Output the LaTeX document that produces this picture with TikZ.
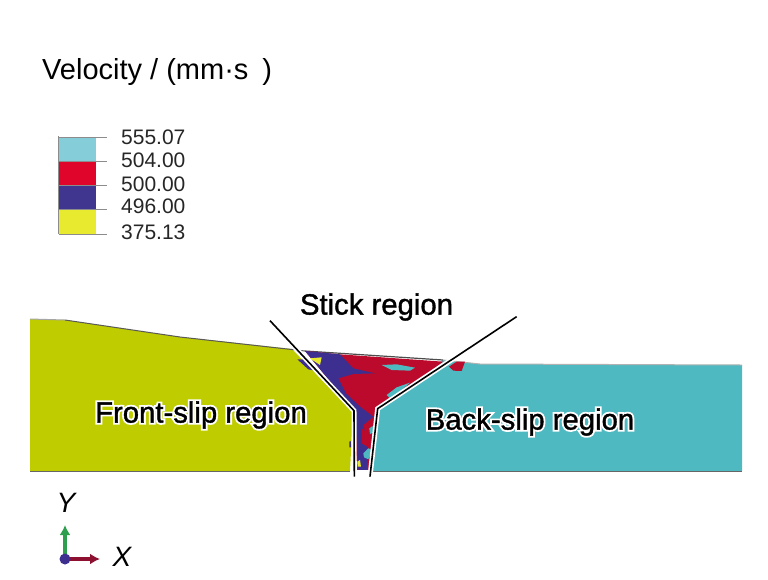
\documentclass[tikz,border=0pt]{standalone}
\usepackage{fontspec}
\usetikzlibrary{arrows.meta}
\setmainfont{Liberation Sans}
\newfontfamily\halofont[FakeBold=14]{Liberation Sans}
\newfontfamily\regionfont[FakeBold=1.2]{Liberation Sans}
\definecolor{lc}{HTML}{85CDD8}\definecolor{lr}{HTML}{E0052B}\definecolor{lb}{HTML}{41368F}\definecolor{ly}{HTML}{E8EA30}
\definecolor{fs}{HTML}{BFCC00}\definecolor{bs}{HTML}{4FB9C1}\definecolor{rr}{HTML}{BC0A2C}\definecolor{rb}{HTML}{3D2F8F}
\definecolor{ag}{HTML}{2E9E4F}\definecolor{ar}{HTML}{8E1030}
\newcommand{\halo}[1]{\rlap{\halofont\color{white}#1}{\regionfont #1}}
\tikzset{
 tick/.style={draw=black!45,line width=1pt},
 legendlabel/.style={font=\fontsize{21}{21}\selectfont,anchor=west,inner sep=0pt,black!85},
 regionlabel/.style={font=\fontsize{29.3}{29.3}\selectfont,inner sep=0pt},
 halo line/.style={white,line width=5pt},
 black line/.style={black,line width=1.6pt},
 axislabel/.style={font=\fontsize{28}{28}\selectfont\itshape,inner sep=0pt}
}
\begin{document}
\begin{tikzpicture}[x=1pt,y=-1pt]
\useasboundingbox (0,0) rectangle (768,579);
\fill[white] (0,0) rectangle (768,579);
% title
\node[font=\fontsize{29}{29}\selectfont,anchor=west,inner sep=0pt] (title) at (42,72) {Velocity / (mm·s\hspace{14pt})};
% legend
\fill[lc] (59,137) rectangle (96,161);
\fill[lr] (59,161) rectangle (96,185);
\fill[lb] (59,185) rectangle (96,209);
\fill[ly] (59,209) rectangle (96,234);
\draw[tick] (58.5,136) -- (58.5,234);
\draw[tick] (59,137) -- (107,137) (59,161) -- (107,161) (59,185) -- (107,185) (59,209) -- (107,209) (59,234.5) -- (107,234.5);
\node[legendlabel] (a) at (121,137) {555.07};
\node[legendlabel] (b) at (121,160) {504.00};
\node[legendlabel] (c) at (121,184) {500.00};
\node[legendlabel] (d) at (121,206) {496.00};
\node[legendlabel] (e) at (121,232) {375.13};
% regions
\fill[fs] (30,319) -- (65,320) -- (180,337) -- (292,349) -- (353,412) -- (350,471) -- (30,471) -- cycle;
\fill[bs] (443,360) -- (480,364) -- (742,365) -- (742,471) -- (372,471) -- (378,408) -- cycle;
\draw[black!65,line width=1pt] (65,320) -- (180,337) -- (305,351);
\draw[black!70,line width=1.2pt] (305,351) -- (443,360);
\draw[black!30,line width=1pt] (443,360) -- (480,364) -- (742,365);
\draw[black!35,line width=1pt] (30,319) -- (65,320);
\draw[black!60,line width=1.3pt] (30,471.5) -- (350,471.5) (372,471.5) -- (742,471.5);
\begin{scope}[shift={(260,300)},x=0.3333pt,y=-0.3333pt]
\fill[rr] (135,153) -- (240,163) -- (550,185) -- (355,325) -- (330,510) -- (290,510) -- (285,335) -- cycle;
\fill[rb] (135,153) -- (240,163) -- (280,205) -- (345,220) -- (280,222) -- (235,235) -- (258,280) -- (300,320) -- (340,350) -- (310,375) -- (325,450) -- (322,510) -- (295,510) -- (285,335) -- cycle;
\fill[rr] (305,385) -- (322,400) -- (322,440) -- (305,430) -- cycle;
\fill[bs] (365,195) -- (410,193) -- (465,203) -- (450,212) -- (395,210) -- cycle;
\fill[bs] (380,285) -- (410,262) -- (450,248) -- (420,275) -- (390,295) -- cycle;
\fill[bs] (310,460) -- (325,445) -- (338,450) -- (325,478) -- (312,472) -- cycle;
\fill[bs] (328,385) -- (338,378) -- (340,398) -- (330,402) -- cycle;
\fill[ly] (150,175) -- (185,172) -- (180,195) -- cycle;
\fill[ly] (292,485) -- (300,480) -- (303,500) -- (293,500) -- cycle;
\fill[rb] (112,178) -- (130,178) -- (165,212) -- (145,208) -- cycle;
\fill[rr] (567,200) -- (590,185) -- (615,185) -- (605,213) -- (580,212) -- cycle;
\fill[rb] (268,425) -- (272,423) -- (274,442) -- (268,442) -- cycle;
\coordinate (l1) at (30,62);
\coordinate (l2) at (282,332);
\coordinate (l3) at (283,530);
\coordinate (r1) at (770,50);
\coordinate (r2) at (353,326);
\coordinate (r3) at (330,530);
\end{scope}
\draw[halo line] (l1) -- (l2) -- (l3);
\draw[halo line] (r1) -- (r2) -- (r3);
\draw[black line] (l1) -- (l2) -- (l3);
\draw[black line] (r1) -- (r2) -- (r3);
% labels
\node[regionlabel] (stick) at (376.5,307) {\regionfont Stick region};
\node[regionlabel] (front) at (201,415) {\halo{Front-slip region}};
\node[regionlabel] (back) at (530,422) {\halo{Back-slip region}};
% axes
\coordinate (o) at (65,559);
\coordinate (ay) at (65,525);
\coordinate (ax) at (100,559);
\draw[ag,line width=4.5pt,-{Latex[length=10pt,width=11pt]}] (o) -- (ay);
\draw[ar,line width=4pt,-{Latex[length=10pt,width=11pt]}] (o) -- (ax);
\fill[rb] (o) circle (5.5pt);
\node[axislabel] (yl) at (66,503) {Y};
\node[axislabel] (xl) at (122,557) {X};
\end{tikzpicture}
\end{document}
